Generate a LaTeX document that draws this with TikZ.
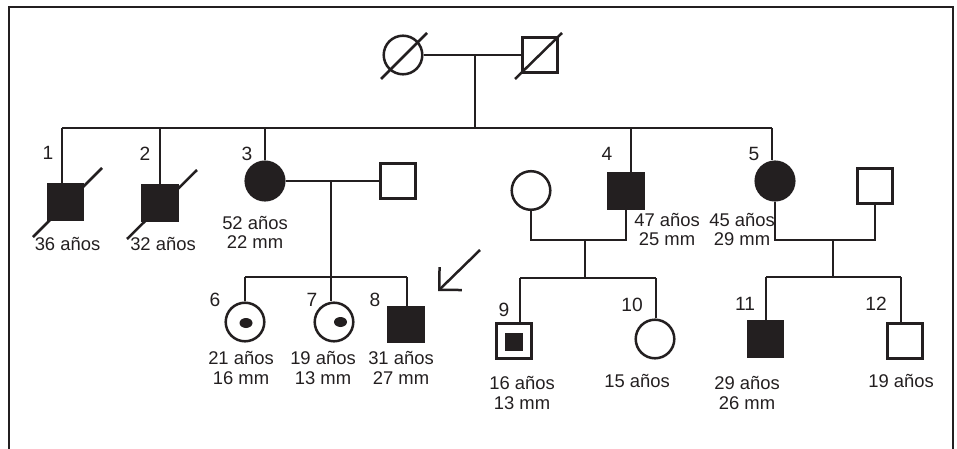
\documentclass[tikz,border=0pt]{standalone}
\usepackage{fontspec}
\setmainfont{Liberation Sans}
\usepackage{xcolor}
\usepackage{tikz}
\usetikzlibrary{arrows.meta,positioning,calc,shapes.geometric}
\definecolor{pedink}{HTML}{231F20}

\begin{document}
\begin{tikzpicture}[
    x=0.5pt,y=-0.5pt,
    lk/.style  = {draw=pedink,line width=1.25pt},
    ma/.style  = {rectangle,draw=pedink,line width=1.25pt,fill=white,
                  minimum size=17.3pt,inner sep=0pt},
    fe/.style  = {circle,draw=pedink,line width=1.25pt,fill=white,
                  minimum size=19.3pt,inner sep=0pt},
    aff/.style = {fill=pedink},
    dot/.style = {ellipse,fill=pedink,minimum width=6.5pt,minimum height=5pt,
                  inner sep=0pt},
    num/.style = {font=\fontsize{9.6}{10}\selectfont,text=pedink,inner sep=0pt},
    note/.style= {font=\fontsize{9.2}{9.8}\selectfont,text=pedink,align=center,
                  inner sep=0pt},
    pt/.style  = {-{Straight Barb[length=8pt,width=16pt]},draw=pedink,
                  line width=1.25pt},
  ]

  \useasboundingbox (0,0) rectangle (957,449);
  \draw[lk,line width=1.1pt] (9,449) -- (9,7) -- (953,7) -- (953,449);

  % generation I
  \node[fe] (I1) at (403,55) {};
  \node[ma] (I2) at (540,55) {};
  \coordinate (m1) at (475,55);
  \coordinate (d1) at (475,128);
  \draw[lk] (I1) -- (I2);
  \draw[lk] (m1) -- (d1);

  % generation II
  \node[ma,aff] (II1) at (65.5,202) {};
  \node[ma,aff] (II2) at (160,203)  {};
  \node[fe,aff] (II3) at (265,181)  {};
  \node[ma]     (II3s) at (398,181) {};
  \node[fe]     (II4s) at (531,190.5) {};
  \node[ma,aff] (II4) at (626,191)  {};
  \node[fe,aff] (II5) at (775,181)  {};
  \node[ma]     (II5s) at (875,186) {};

  \coordinate (t1) at (62,128);
  \coordinate (t2) at (160,128);
  \coordinate (t3) at (265,128);
  \coordinate (t4) at (631,128);
  \coordinate (t5) at (772,128);
  \draw[lk] (t1) -- (t5);
  \foreach \t/\n in {t1/II1,t2/II2,t3/II3,t4/II4,t5/II5}
    \draw[lk] (\t) -- (\t |- \n.north);

  \coordinate (m2) at (331,181);
  \coordinate (d2) at (331,277);
  \draw[lk] (II3) -- (II3s);
  \draw[lk] (m2) -- (d2);

  \coordinate (u4a) at (531,240);
  \coordinate (u4b) at (626,240);
  \coordinate (m3) at (585,240);
  \coordinate (d3) at (585,278);
  \draw[lk] (II4s.south) -- (u4a) -- (u4b) -- (II4.south);
  \draw[lk] (m3) -- (d3);

  \coordinate (u5a) at (775,240);
  \coordinate (u5b) at (875,240);
  \coordinate (m4) at (833,240);
  \coordinate (d4) at (833,277);
  \draw[lk] (II5.south) -- (u5a) -- (u5b) -- (II5s.south);
  \draw[lk] (m4) -- (d4);

  % generation III
  \node[fe]     (III6) at (245,322)   {};
  \node[fe]     (III7) at (334,322)   {};
  \node[ma,aff] (III8) at (406,324.5) {};
  \node[ma]     (III9) at (514,341)   {};
  \node[fe]     (III10) at (655,339)  {};
  \node[ma,aff] (III11) at (765.5,339) {};
  \node[ma]     (III12) at (905,341)  {};

  \coordinate (t6) at (245,277);
  \coordinate (t7) at (331,277);
  \coordinate (t8) at (407,277);
  \coordinate (t9) at (520,278);
  \coordinate (t10) at (656,278);
  \coordinate (t11) at (766,277);
  \coordinate (t12) at (901,277);
  \draw[lk] (t6) -- (t8);
  \draw[lk] (t9) -- (t10);
  \draw[lk] (t11) -- (t12);
  \foreach \t/\n in {t6/III6,t7/III7,t8/III8,t9/III9,t10/III10,t11/III11,t12/III12}
    \draw[lk] (\t) -- (\t |- \n.north);

  \node[dot] (x6) at (246,323)   {};
  \node[dot] (x7) at (340.5,322) {};
  \node[fill=pedink,minimum size=9pt,inner sep=0pt] (x9) at (514,342) {};

  % deceased
  \draw[lk] ($(I1)+(-22,24)$)    -- ($(I1)+(24,-22)$);
  \draw[lk] ($(I2)+(-25,24)$)    -- ($(I2)+(22,-22)$);
  \draw[lk] ($(II1)+(-32.5,35)$) -- ($(II1)+(36.5,-34)$);
  \draw[lk] ($(II2)+(-33,36)$)   -- ($(II2)+(37,-33)$);

  % proband
  \coordinate (pa) at (480,250);
  \coordinate (pb) at (438,291);
  \draw[pt] (pa) -- (pb);

  % numbers
  \node[num] (n1) at (48,153)  {1};
  \node[num] (n2) at (145,154) {2};
  \node[num] (n3) at (247,154) {3};
  \node[num] (n4) at (607,154) {4};
  \node[num] (n5) at (754,154) {5};
  \node[num] (n6) at (215,300) {6};
  \node[num] (n7) at (312,300) {7};
  \node[num] (n8) at (375,300) {8};
  \node[num] (n9) at (504,310) {9};
  \node[num] (n10) at (632,305) {10};
  \node[num] (n11) at (745,304) {11};
  \node[num] (n12) at (876,304) {12};

  % ages and measures
  \node[note] (a1) at (67.5,244) {36 años};
  \node[note] (a2) at (163,244)  {32 años};
  \node[note] (a3) at (255,232.5) {52 años\\22 mm};
  \node[note] (a4) at (667,229.5) {47 años\\25 mm};
  \node[note] (a5) at (742,229.5) {45 años\\29 mm};
  \node[note] (a6) at (241,368)  {21 años\\16 mm};
  \node[note] (a7) at (323,368)  {19 años\\13 mm};
  \node[note] (a8) at (401,368)  {31 años\\27 mm};
  \node[note] (a9) at (522,393)  {16 años\\13 mm};
  \node[note] (a10) at (637,381) {15 años};
  \node[note] (a11) at (747,393) {29 años\\26 mm};
  \node[note] (a12) at (901,381) {19 años};

\end{tikzpicture}
\end{document}
